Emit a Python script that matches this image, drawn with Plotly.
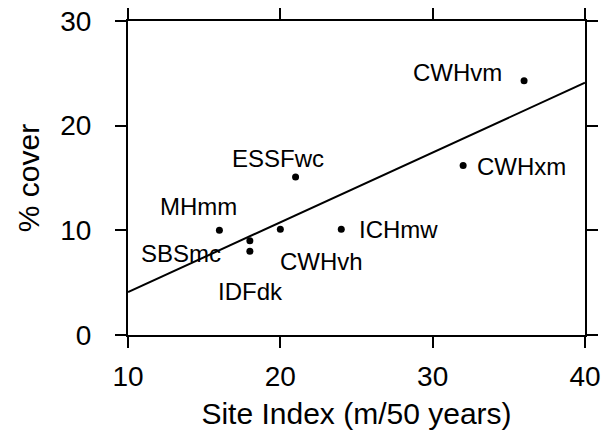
import plotly.graph_objects as go

# Data
sites = ["MHmm", "SBSmc", "IDFdk", "CWHvh", "ESSFwc", "ICHmw", "CWHxm", "CWHvm"]
site_index = [16, 18, 18, 20, 21, 24, 32, 36]
pct_cover = [10.0, 9.0, 8.0, 10.1, 15.1, 10.1, 16.2, 24.3]
fit_x = [10, 40]
fit_y = [4.1, 24.1]
x_ticks = [10, 20, 30, 40]
y_ticks = [0, 10, 20, 30]

# label placement (style): (xanchor, xshift, yshift)
label_style = {
    "MHmm": ("center", -21, 24),
    "SBSmc": ("right", -27, -13),
    "IDFdk": ("center", 1, -40),
    "CWHvh": ("left", -2, -32),
    "ESSFwc": ("center", -18, 18),
    "ICHmw": ("left", 16, 0),
    "CWHxm": ("left", 12, -1),
    "CWHvm": ("right", -20, 8),
}

FONT = "Liberation Sans, Arial, sans-serif"

fig = go.Figure()
fig.add_trace(go.Scatter(x=fit_x, y=fit_y, mode="lines",
                         line=dict(color="black", width=2), showlegend=False))
fig.add_trace(go.Scatter(x=site_index, y=pct_cover, mode="markers",
                         marker=dict(color="black", size=7), showlegend=False))

for name, xv, yv in zip(sites, site_index, pct_cover):
    anchor, xs, ys = label_style[name]
    fig.add_annotation(x=xv, y=yv, text=name, showarrow=False,
                       xanchor=anchor, yanchor="middle", xshift=xs, yshift=ys,
                       font=dict(family=FONT, size=24, color="black"))

axis_common = dict(
    showgrid=False, zeroline=False, showline=True, linecolor="black", linewidth=2,
    mirror="ticks", ticks="outside", ticklen=11, tickwidth=2, tickcolor="black",
    tickfont=dict(family=FONT, size=28, color="black"), automargin=False,
)

fig.update_xaxes(range=[10, 40], tickvals=x_ticks, ticklabelstandoff=4,
                 title=dict(text="Site Index (m/50 years)",
                            font=dict(family=FONT, size=30, color="black"), standoff=12),
                 **axis_common)
fig.update_yaxes(range=[0, 30], tickvals=y_ticks, ticklabelstandoff=18,
                 title=dict(text="% cover",
                            font=dict(family=FONT, size=30, color="black"), standoff=12),
                 **axis_common)

fig.update_layout(
    width=603, height=434,
    margin=dict(l=128, r=18, t=21, b=99),
    plot_bgcolor="white", paper_bgcolor="white",
    font=dict(family=FONT, color="black"),
)

fig.write_html("out.html")
